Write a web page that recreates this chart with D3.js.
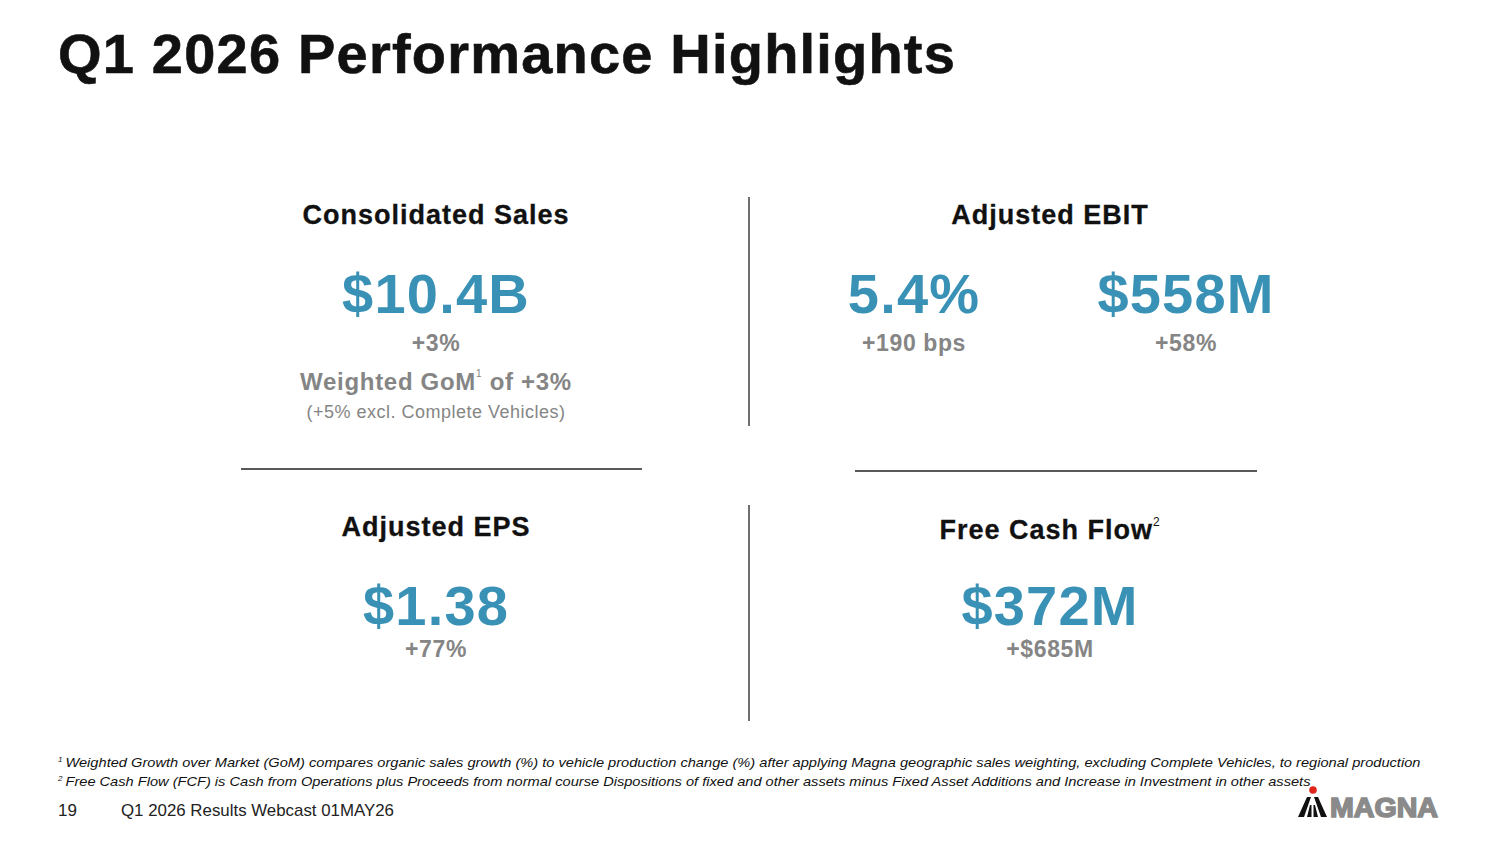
<!DOCTYPE html>
<html>
<head>
<meta charset="utf-8">
<script src="https://cdn.jsdelivr.net/npm/d3@7"></script>
<style>
  html, body { margin: 0; padding: 0; background: #fff; }
  svg { display: block; font-family: "Liberation Sans", Arial, sans-serif; }
</style>
</head>
<body>
<div id="slide"></div>
<script>
const slideTitle = "Q1 2026 Performance Highlights";

const tileTitles = ["Consolidated Sales", "Adjusted EBIT", "Adjusted EPS", "Free Cash Flow"];
const tileNotes = ["", "", "", "2"];
const headlineValues = [["$10.4B"], ["5.4%", "$558M"], ["$1.38"], ["$372M"]];
const changeValues = [["+3%"], ["+190 bps", "+58%"], ["+77%"], ["+$685M"]];
const extraLines = ["Weighted GoM", "1", " of +3%"];
const extraNote = "(+5% excl. Complete Vehicles)";

const footnotes = [
  ["1", "Weighted Growth over Market (GoM) compares organic sales growth (%) to vehicle production change (%) after applying Magna geographic sales weighting, excluding Complete Vehicles, to regional production"],
  ["2", "Free Cash Flow (FCF) is Cash from Operations plus Proceeds from normal course Dispositions of fixed and other assets minus Fixed Asset Additions and Increase in Investment in other assets"]
];
const pageNumber = "19";
const footerText = "Q1 2026 Results Webcast 01MAY26";

var width = 1500,
  height = 844;

const blue = "#3a91b6",
  grey = "#858585",
  ink = "#111";

var svg = d3
  .select("#slide")
  .append("svg")
  .attr("width", width)
  .attr("height", height)
  .attr("viewBox", [0, 0, width, height]);

// title
svg
  .append("text")
  .attr("x", 58)
  .attr("y", 73)
  .attr("font-size", 56)
  .attr("font-weight", "bold")
  .attr("letter-spacing", 1.2)
  .attr("fill", ink)
  .attr("stroke", ink)
  .attr("stroke-width", 0.6)
  .text(slideTitle);

// quadrant geometry
col = d3.scalePoint().domain([0, 1]).range([436, 1050]);
row = d3.scalePoint().domain([0, 1]).range([0, 312]);
sub = d3.scalePoint().domain([0, 1]).range([-136, 136]);

// dividers
svg
  .append("g")
  .attr("stroke", "#222")
  .attr("stroke-width", 1.3)
  .selectAll("line")
  .data([
    [749, 197, 749, 426],
    [749, 505, 749, 721],
    [241, 469, 642, 469],
    [855, 471, 1257, 471]
  ])
  .enter()
  .append("line")
  .attr("x1", d => d[0])
  .attr("y1", d => d[1])
  .attr("x2", d => d[2])
  .attr("y2", d => d[3]);

tileTitles.map(function(t, i) {
  cx = col(i % 2);
  dy = row(Math.floor(i / 2));
  g = svg.append("g").attr("transform", "translate(" + cx + "," + dy + ")");

  head = g
    .append("text")
    .attr("text-anchor", "middle")
    .attr("y", i == 3 ? 227 : 224)
    .attr("font-size", 27)
    .attr("font-weight", "bold")
    .attr("letter-spacing", 1)
    .attr("fill", ink)
    .attr("stroke", ink)
    .attr("stroke-width", 0.3)
    .text(t);
  if (tileNotes[i]) {
    head
      .append("tspan")
      .attr("font-size", 12)
      .attr("font-weight", "normal")
      .attr("stroke-width", 0)
      .attr("dy", -13)
      .text(tileNotes[i]);
  }

  vals = headlineValues[i];
  vals.map(function(v, j) {
    x = vals.length > 1 ? sub(j) : 0;
    g.append("text")
      .attr("text-anchor", "middle")
      .attr("x", x)
      .attr("y", 313)
      .attr("font-size", 56)
      .attr("font-weight", "bold")
      .attr("letter-spacing", 1.2)
      .attr("fill", blue)
      .text(v);
    g.append("text")
      .attr("text-anchor", "middle")
      .attr("x", x)
      .attr("y", i >= 2 ? 345 : 351)
      .attr("font-size", 23)
      .attr("font-weight", "bold")
      .attr("letter-spacing", 0.6)
      .attr("fill", grey)
      .text(changeValues[i][j]);
  });

  if (i == 0) {
    gom = g
      .append("text")
      .attr("text-anchor", "middle")
      .attr("y", 390)
      .attr("font-size", 24)
      .attr("font-weight", "bold")
      .attr("letter-spacing", 0.7)
      .attr("fill", grey);
    gom.append("tspan").text(extraLines[0]);
    gom
      .append("tspan")
      .attr("font-size", 10)
      .attr("font-weight", "normal")
      .attr("dy", -13)
      .text(extraLines[1]);
    gom.append("tspan").attr("dy", 13).text(extraLines[2]);
    g.append("text")
      .attr("text-anchor", "middle")
      .attr("y", 418)
      .attr("font-size", 18)
      .attr("letter-spacing", 0.5)
      .attr("fill", grey)
      .text(extraNote);
  }
});

// footnotes
footnotes.map(function(f, i) {
  t = svg
    .append("text")
    .attr("x", 58)
    .attr("y", 767 + i * 19)
    .attr("font-size", 13.5)
    .attr("font-style", "italic")
    .attr("fill", ink);
  t.append("tspan").attr("font-size", 8).attr("dy", -5).text(f[0]);
  t.append("tspan")
    .attr("dy", 5)
    .attr("dx", 3)
    .attr("textLength", i == 0 ? 1355 : 1245)
    .attr("lengthAdjust", "spacingAndGlyphs")
    .text(f[1]);
});

// footer
svg
  .append("text")
  .attr("x", 58)
  .attr("y", 816)
  .attr("font-size", 17)
  .attr("fill", "#222")
  .text(pageNumber);
svg
  .append("text")
  .attr("x", 121)
  .attr("y", 816)
  .attr("font-size", 17)
  .attr("textLength", 273)
  .attr("lengthAdjust", "spacingAndGlyphs")
  .attr("fill", "#222")
  .text(footerText);

// logo
logo = svg.append("g").attr("transform", "translate(1298,797)");
logo
  .append("path")
  .attr(
    "d",
    "M0 20 L9 0 L13 0 L6 20 Z M9 20 L12 8 L13.5 8 L13.5 20 Z M15.5 20 L15.5 8 L17 8 L20 20 Z M23 20 L16 0 L20 0 L29 20 Z"
  )
  .attr("fill", "#111");
logo
  .append("circle")
  .attr("cx", 15)
  .attr("cy", -7)
  .attr("r", 3.8)
  .attr("fill", "#e0251b");
logo
  .append("text")
  .attr("x", 32)
  .attr("y", 20)
  .attr("font-size", 28)
  .attr("font-weight", "bold")
  .attr("textLength", 108)
  .attr("lengthAdjust", "spacingAndGlyphs")
  .attr("fill", "#8a8a8a")
  .attr("stroke", "#8a8a8a")
  .attr("stroke-width", 1.6)
  .text("MAGNA");
</script>
</body>
</html>
